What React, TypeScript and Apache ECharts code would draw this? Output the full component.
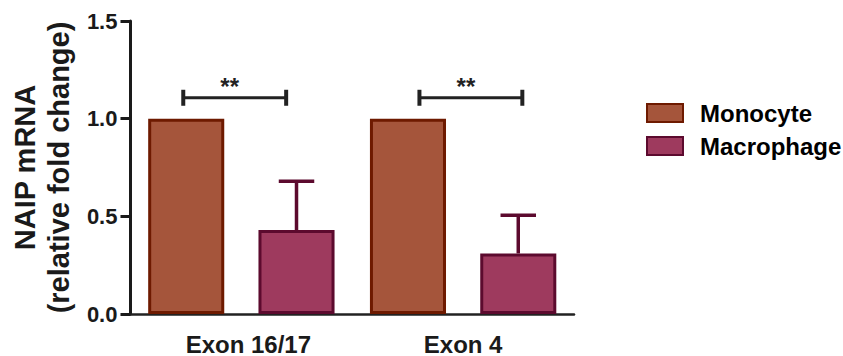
import React, { useEffect, useRef } from "react";
import * as echarts from "echarts";

const categories = ["Exon 16/17", "Exon 4"];
const monocyte = [1.0, 1.0];
const macrophage = [0.43, 0.31];
const macrophageUpper = [0.68, 0.505];
const significanceY = [1.107, 1.107];
const significanceLabels = ["**", "**"];
const yTicks = ["0.0", "0.5", "1.0", "1.5"];

const FONT = '"Liberation Sans", Arial, sans-serif';
const BAR_W = 0.343;
const BAR_GAP = 0.45;
const bracketShift = [-0.03, 0.035];
const labelShift = [14, 0];

export default function App() {
  const ref = useRef<HTMLDivElement>(null);
  useEffect(() => {
    if (!ref.current) return;
    const chart = echarts.init(ref.current, undefined, { renderer: "svg" });
    const offsetFrac = (BAR_W * (1 + BAR_GAP)) / 2;
    chart.setOption({
      animation: false,
      backgroundColor: "#ffffff",
      grid: { left: 125, top: 21, right: 269, bottom: 41, containLabel: false },
      legend: {
        data: ["Monocyte", "Macrophage"],
        orient: "vertical",
        left: 641,
        top: 96,
        itemWidth: 36,
        itemHeight: 18,
        itemGap: 9,
        icon: "rect",
        textStyle: {
          fontFamily: FONT,
          fontWeight: "bold",
          fontSize: 24,
          color: "#000",
          padding: [0, 0, 0, 12],
        },
      },
      xAxis: {
        type: "category",
        data: categories,
        axisLine: { lineStyle: { color: "#222", width: 2.5 } },
        axisTick: { show: false },
        axisLabel: {
          interval: 0,
          hideOverlap: false,
          fontFamily: FONT,
          fontWeight: "bold",
          fontSize: 24,
          color: "#1a1a1a",
          margin: 18,
          formatter: (v: string) => {
            const i = categories.indexOf(v);
            return "{c" + i + "|" + v + "}";
          },
          rich: {
            c0: { fontFamily: FONT, fontWeight: "bold", fontSize: 24, color: "#1a1a1a", padding: [0, 0, 0, labelShift[0]] },
            c1: { fontFamily: FONT, fontWeight: "bold", fontSize: 24, color: "#1a1a1a", padding: [0, 0, 0, labelShift[1]] },
          },
        },
      },
      yAxis: {
        type: "value",
        min: 0,
        max: 1.5,
        interval: 0.5,
        name: "NAIP mRNA\n(relative fold change)",
        nameLocation: "middle",
        nameRotate: 90,
        nameGap: 54,
        nameTextStyle: {
          fontFamily: FONT,
          fontWeight: "bold",
          fontSize: 29,
          lineHeight: 34,
          color: "#1a1a1a",
        },
        axisLine: { show: true, lineStyle: { color: "#1a1a1a", width: 3 } },
        axisTick: { show: true, length: 10, lineStyle: { color: "#1a1a1a", width: 3 } },
        splitLine: { show: false },
        axisLabel: {
          fontFamily: FONT,
          fontWeight: "bold",
          fontSize: 22,
          color: "#1a1a1a",
          margin: 13,
          formatter: (v: number) => yTicks[Math.round(v / 0.5)] ?? String(v),
        },
      },
      series: [
        {
          name: "Monocyte",
          type: "bar",
          data: monocyte,
          barWidth: BAR_W * 100 + "%",
          barGap: BAR_GAP * 100 + "%",
          itemStyle: { color: "#a5553b", borderColor: "#6e1a00", borderWidth: 3 },
        },
        {
          name: "Macrophage",
          type: "bar",
          data: macrophage,
          barWidth: BAR_W * 100 + "%",
          itemStyle: { color: "#9e3a5e", borderColor: "#5c0a2e", borderWidth: 3 },
        },
        {
          name: "err",
          type: "custom",
          z: 5,
          data: categories.map((_, i) => [i, macrophage[i], macrophageUpper[i]]),
          encode: { x: 0, y: [1, 2] },
          renderItem: (params: any, api: any) => {
            const i = api.value(0);
            const base = api.coord([i, api.value(1)]);
            const top = api.coord([i, api.value(2)]);
            const band = api.size([1, 0])[0];
            const x = base[0] + offsetFrac * band;
            const half = 0.08 * band;
            const style = { stroke: "#5c0a2e", lineWidth: 3.5 };
            return {
              type: "group",
              children: [
                { type: "line", shape: { x1: x, y1: base[1], x2: x, y2: top[1] }, style },
                { type: "line", shape: { x1: x - half, y1: top[1], x2: x + half, y2: top[1] }, style },
              ],
            };
          },
        },
        {
          name: "sig",
          type: "custom",
          z: 5,
          data: categories.map((_, i) => [i, significanceY[i]]),
          encode: { x: 0, y: 1 },
          renderItem: (params: any, api: any) => {
            const i = api.value(0);
            const p = api.coord([i, api.value(1)]);
            const band = api.size([1, 0])[0];
            const cx = p[0] + bracketShift[i] * band;
            const halfW = 0.232 * band;
            const style = { stroke: "#222", lineWidth: 3 };
            const capStyle = { stroke: "#222", lineWidth: 4 };
            return {
              type: "group",
              children: [
                { type: "line", shape: { x1: cx - halfW, y1: p[1], x2: cx + halfW, y2: p[1] }, style },
                { type: "line", shape: { x1: cx - halfW, y1: p[1] - 8, x2: cx - halfW, y2: p[1] + 8 }, style: capStyle },
                { type: "line", shape: { x1: cx + halfW, y1: p[1] - 8, x2: cx + halfW, y2: p[1] + 8 }, style: capStyle },
                {
                  type: "text",
                  x: cx - 5,
                  y: p[1] + 1,
                  style: {
                    text: significanceLabels[i],
                    fontFamily: FONT,
                    fontWeight: "bold",
                    fontSize: 24,
                    fill: "#222",
                    align: "center",
                    verticalAlign: "bottom",
                  },
                },
              ],
            };
          },
        },
      ],
    });
    return () => chart.dispose();
  }, []);
  return (
    <div
      ref={ref}
      style={{ position: "absolute", left: 0, top: 0, width: 843, height: 356 }}
    />
  );
}
